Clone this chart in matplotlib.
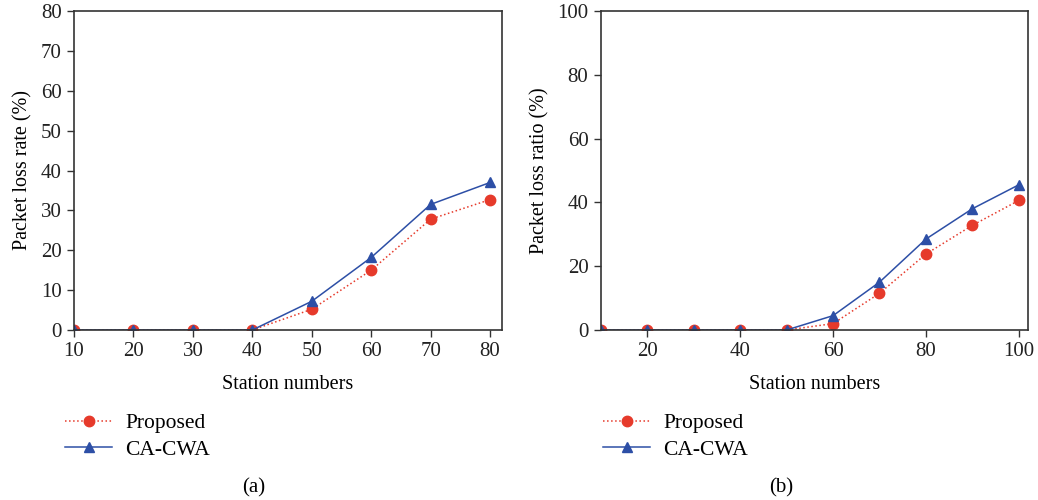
import numpy as np
import matplotlib.pyplot as plt
from matplotlib.lines import Line2D

plt.rcParams['font.family'] = ['Liberation Serif', 'DejaVu Serif']
plt.rcParams['font.size'] = 15

# (a) packet loss rate
st_a = [10, 20, 30, 40, 50, 60, 70, 80]
prop_a = [0, 0, 0, 0, 5.2, 15.0, 27.8, 32.7]
cacwa_a = [0, 0, 0, 0, 7.2, 18.2, 31.5, 37.0]

# (b) packet loss ratio
st_b = [10, 20, 30, 40, 50, 60, 70, 80, 90, 100]
prop_b = [0, 0, 0, 0, 0, 2.0, 11.5, 23.8, 32.8, 40.6]
cacwa_b = [0, 0, 0, 0, 0, 4.5, 15.0, 28.5, 38.0, 45.5]

red = '#e63a2b'
blue = '#2d4fa6'

W, H = 1038, 500
fig = plt.figure(figsize=(W / 100, H / 100), dpi=100)

def px_axes(x0, x1, y0, y1):
    return fig.add_axes([x0 / W, 1 - y1 / H, (x1 - x0) / W, (y1 - y0) / H])

ax1 = px_axes(74, 502, 11, 330)
ax2 = px_axes(601, 1028, 11, 330)

def draw(ax, x, p, c, xlim, ylim, yticks, xticks, ylabel):
    ax.plot(x, p, ':', color=red, lw=1.1, marker='o', ms=7.5, mec=red, mfc=red)
    ax.plot(x, c, '-', color=blue, lw=1.1, marker='^', ms=7.5, mec=blue, mfc=blue)
    ax.set_xlim(*xlim)
    ax.set_ylim(*ylim)
    ax.set_xticks(xticks)
    ax.set_yticks(yticks)
    ax.tick_params(direction='out', length=5, width=1, top=False, right=False,
                   color='#333333', labelcolor='#222222', pad=4)
    for s in ax.spines.values():
        s.set_linewidth(1.2)
        s.set_color('#333333')
    ax.set_xlabel('Station numbers', labelpad=10, fontsize=14.5)
    ax.set_ylabel(ylabel, labelpad=6, fontsize=14.5)

draw(ax1, st_a, prop_a, cacwa_a, (10, 82), (0, 80), np.arange(0, 81, 10),
     st_a, 'Packet loss rate (%)')
draw(ax2, st_b, prop_b, cacwa_b, (10, 102), (0, 100), np.arange(0, 101, 20),
     [20, 40, 60, 80, 100], 'Packet loss ratio (%)')

handles = [
    Line2D([], [], ls=':', color=red, lw=1.1, marker='o', ms=7.5),
    Line2D([], [], ls='-', color=blue, lw=1.1, marker='^', ms=7.5),
]
labels = ['Proposed', 'CA-CWA']

for x0, tag, cx in [(65, '(a)', 254), (603, '(b)', 781)]:
    fig.legend(handles, labels, loc='upper left',
               bbox_to_anchor=(x0 / W, 1 - 413 / H), frameon=False,
               handlelength=2.2, handletextpad=0.6, labelspacing=0.3,
               fontsize=15.5, borderpad=0, borderaxespad=0)
    fig.text(cx / W, 1 - 488 / H, tag, ha='center', va='center', fontsize=15)

plt.savefig('out.png', dpi=100)
